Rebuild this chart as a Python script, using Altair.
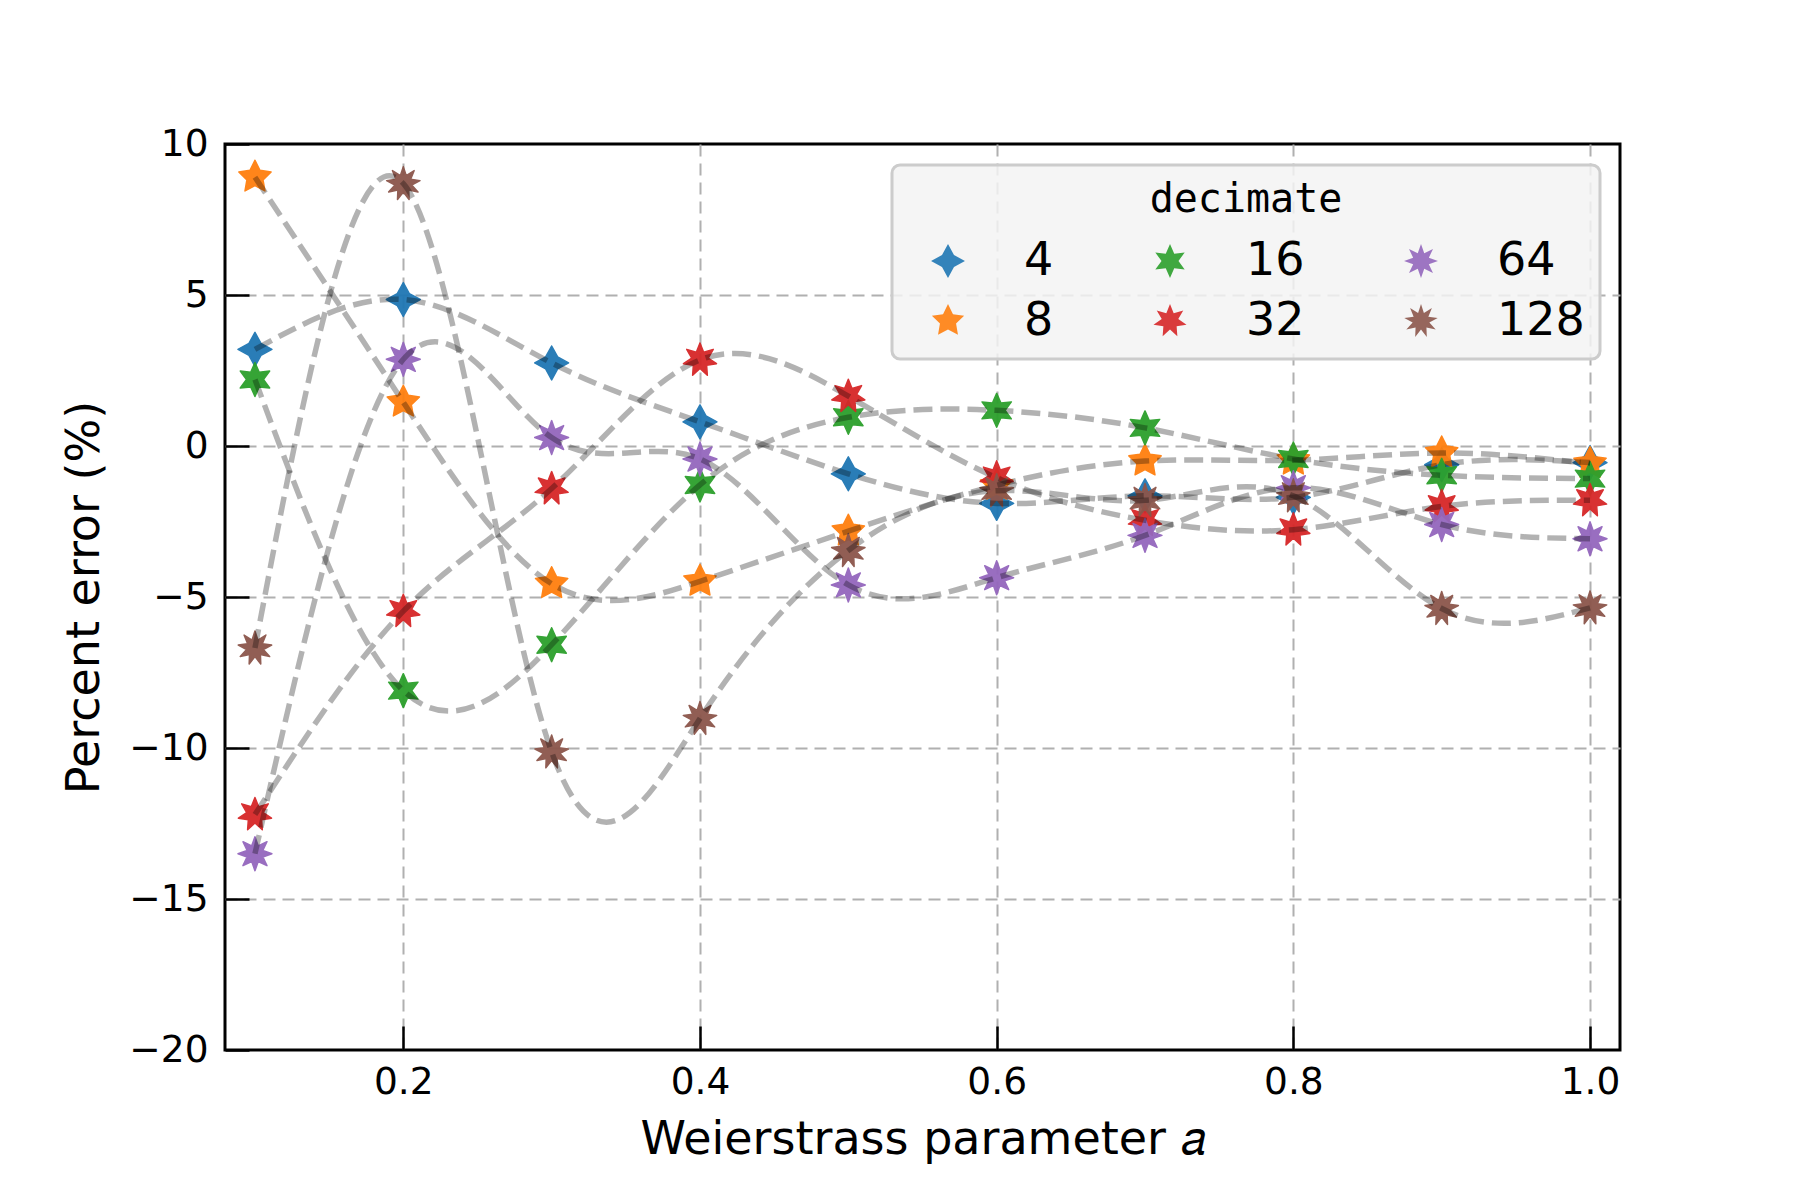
import math
import altair as alt
import pandas as pd

# ---- data ----
a_values = [0.1, 0.2, 0.3, 0.4, 0.5, 0.6, 0.7, 0.8, 0.9, 1.0]
decimates = ["4", "8", "16", "32", "64", "128"]
err_4 = [3.2, 4.85, 2.75, 0.8, -0.92, -1.9, -1.65, -1.7, -0.62, -0.55]
err_8 = [8.9, 1.45, -4.56, -4.48, -2.82, -1.3, -0.5, -0.47, -0.23, -0.58]
err_16 = [2.2, -8.1, -6.58, -1.29, 0.95, 1.18, 0.6, -0.43, -0.97, -1.08]
err_32 = [-12.2, -5.47, -1.41, 2.85, 1.65, -1.05, -2.46, -2.77, -2.0, -1.8]
err_64 = [-13.5, 2.87, 0.28, -0.43, -4.6, -4.36, -2.96, -1.38, -2.6, -3.07]
err_128 = [-6.69, 8.69, -10.13, -9.02, -3.46, -1.48, -1.8, -1.65, -5.38, -5.36]
series = [err_4, err_8, err_16, err_32, err_64, err_128]

x_ticks = [0.2, 0.4, 0.6, 0.8, 1.0]
y_ticks = [-20, -15, -10, -5, 0, 5, 10]

# ---- styles ----
tab10 = {"4": "#1f77b4", "8": "#ff7f0e", "16": "#2ca02c",
         "32": "#d62728", "64": "#9467bd", "128": "#8c564b"}
points_n = {"4": 4, "8": 5, "16": 6, "32": 7, "64": 8, "128": 9}


def star_path(n, inner=0.5):
    pts = []
    for k in range(2 * n):
        r = 1.0 if k % 2 == 0 else inner
        t = math.pi / 2 + k * math.pi / n
        pts.append((r * math.cos(t), -r * math.sin(t)))
    return "M" + " L".join(f"{px:.4f},{py:.4f}" for px, py in pts) + " Z"


legend_order = decimates
color_range = [tab10[d] for d in legend_order]
shape_range = [star_path(points_n[d]) for d in legend_order]

rows = []
for d, vals in zip(decimates, series):
    for a, v in zip(a_values, vals):
        rows.append({"a": a, "err": v, "decimate": d})
df = pd.DataFrame(rows)

W, H = 1395, 906
FONT = "DejaVu Sans"

x_scale = alt.Scale(domain=[0.0798, 1.0202], nice=False, zero=False)
y_scale = alt.Scale(domain=[-20, 10], nice=False, zero=False)

edge_test = "datum.value == 10 || datum.value == -20"

base = alt.Chart(df)

points = base.mark_point(filled=True, opacity=0.95, size=1150, strokeWidth=1.5,
                         strokeJoin="round").encode(
    x=alt.X("a:Q", scale=x_scale,
            axis=alt.Axis(values=x_ticks, format=".1f", title="Weierstrass parameter 𝑎",
                          labelFont=FONT, labelFontSize=37.5, labelColor="black",
                          labelPadding=13, ticks=False, tickSize=0, domain=False,
                          grid=True, gridColor="#b0b0b0", gridDash=[12, 7], gridWidth=2,
                          titleFont=FONT, titleFontSize=46, titleFontWeight="normal",
                          titleColor="black", titlePadding=17)),
    y=alt.Y("err:Q", scale=y_scale,
            axis=alt.Axis(values=y_ticks, format="d", title="Percent error (%)",
                          labelFont=FONT, labelFontSize=37.5, labelColor="black",
                          labelPadding=17, ticks=False, tickSize=0, domain=False,
                          grid=True, gridColor="#b0b0b0", gridDash=[12, 7], gridWidth=2,
                          gridOpacity=alt.condition(edge_test, alt.value(0), alt.value(1)),
                          titleFont=FONT, titleFontSize=46, titleFontWeight="normal",
                          titleColor="black", titlePadding=20)),
    color=alt.Color("decimate:N",
                    scale=alt.Scale(domain=legend_order, range=color_range),
                    legend=alt.Legend(title="decimate", orient="none", legendX=667, legendY=21,
                                      columns=3, titleFont="DejaVu Sans Mono", titleFontSize=40,
                                      titleFontWeight="normal", titleColor="black",
                                      titleAnchor="middle", titlePadding=18, titleLimit=800,
                                      labelFont=FONT, labelFontSize=46, labelColor="black",
                                      symbolSize=1150, symbolOffset=18, labelOffset=53,
                                      columnPadding=75, rowPadding=14, padding=15,
                                      symbolOpacity=0.95, symbolStrokeWidth=0,
                                      fillColor="rgba(243,243,243,0.85)",
                                      strokeColor="#cccccc", cornerRadius=8)),
    stroke=alt.Stroke("decimate:N",
                      scale=alt.Scale(domain=legend_order, range=color_range),
                      legend=None),
    shape=alt.Shape("decimate:N",
                    scale=alt.Scale(domain=legend_order, range=shape_range)),
)

lines = base.mark_line(interpolate="natural", color="black", opacity=0.3,
                       strokeWidth=5.5, strokeDash=[19, 8]).encode(
    x=alt.X("a:Q", scale=x_scale,
            axis=alt.Axis(values=x_ticks, orient="top", offset=-H, labels=False,
                          grid=False, domain=False, ticks=True, tickSize=24,
                          tickWidth=2.5, tickColor="black", title="", zindex=1)),
    y=alt.Y("err:Q", scale=y_scale,
            axis=alt.Axis(values=y_ticks, orient="right", offset=-W, labels=False,
                          grid=False, domain=False, ticks=True, tickSize=24,
                          tickWidth=2.5, tickColor="black", title="", zindex=1)),
    detail="decimate:N",
)

chart = alt.layer(points, lines).resolve_axis(x="independent", y="independent").properties(
    width=W, height=H,
    autosize=alt.AutoSizeParams(type="none"),
    padding={"left": 217, "top": 136, "right": 170, "bottom": 130},
).configure_view(stroke="black", strokeWidth=3).configure_legend(strokeWidth=3)

chart.save("out.html", embed_options={"renderer": "svg", "actions": False})
